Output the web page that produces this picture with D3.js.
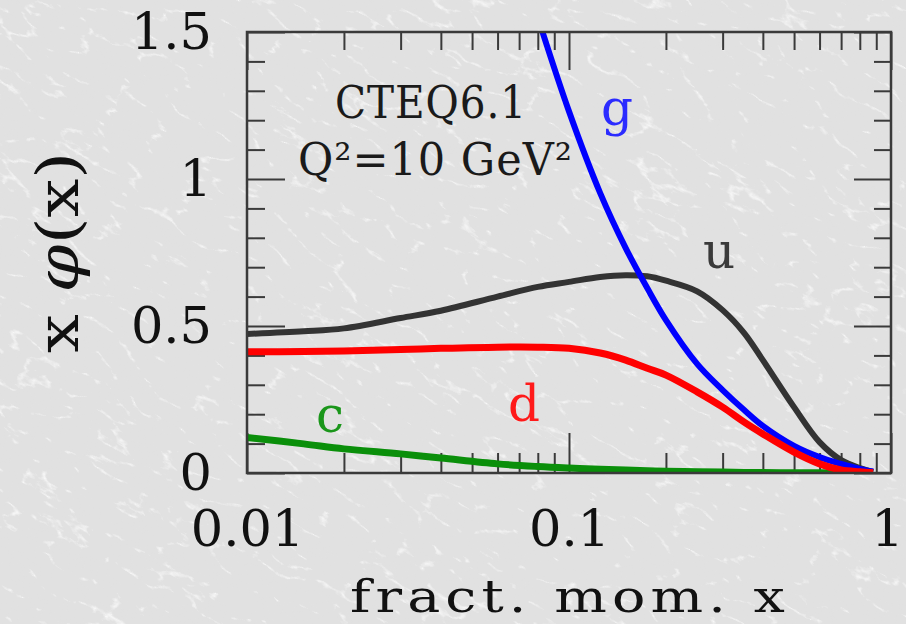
<!DOCTYPE html>
<html>
<head>
<meta charset="utf-8">
<script src="https://cdn.jsdelivr.net/npm/d3@7/dist/d3.min.js"></script>
<style>
  html, body { margin: 0; padding: 0; background: #e2e2e2; }
  svg { display: block; }
  text { font-family: "DejaVu Serif", "Liberation Serif", serif; }
</style>
</head>
<body>
<svg id="chart" width="906" height="624"></svg>
<script>
// Momentum fractions at which the parton densities are sampled
const xValues = [0.01, 0.015, 0.02, 0.03, 0.04, 0.06, 0.08, 0.1, 0.125, 0.15, 0.175, 0.2,
                 0.25, 0.3, 0.35, 0.4, 0.5, 0.6, 0.7, 0.8, 0.88];

// x·f(x) for each parton (CTEQ6.1, Q² = 10 GeV²)
const uValues = [0.473, 0.482, 0.492, 0.527, 0.552, 0.600, 0.633, 0.650, 0.667, 0.673, 0.669, 0.654,
                 0.618, 0.554, 0.476, 0.384, 0.224, 0.105, 0.044, 0.017, 0.004];
const dValues = [0.412, 0.413, 0.415, 0.420, 0.424, 0.428, 0.428, 0.424, 0.408, 0.384, 0.356, 0.333,
                 0.276, 0.224, 0.173, 0.133, 0.071, 0.031, 0.010, 0.004, 0.001];
const gValues = [null, null, null, null, null, null, 1.55, 1.23, 0.952, 0.765, 0.629, 0.520,
                 0.371, 0.282, 0.214, 0.160, 0.092, 0.054, 0.031, 0.014, 0.005];
const cValues = [0.121, 0.099, 0.082, 0.065, 0.051, 0.031, 0.022, 0.017, 0.013, 0.010, 0.008, 0.006,
                 0.004, 0.003, 0.002, 0.0015, 0.001, 0.0005, 0.0003, 0.0001, 0.0];

const xMajorTicks = [0.01, 0.1, 1];
const xTickLabels = ["0.01", "0.1", "1"];
const xMinorTicks = [0.02, 0.03, 0.04, 0.05, 0.06, 0.07, 0.08, 0.09,
                     0.2, 0.3, 0.4, 0.5, 0.6, 0.7, 0.8, 0.9];
const yMajorTicks = [0, 0.5, 1, 1.5];
const yTickLabels = ["0", "0.5", "1", "1.5"];
const yMinorTicks = [0.1, 0.2, 0.3, 0.4, 0.6, 0.7, 0.8, 0.9, 1.1, 1.2, 1.3, 1.4];

const series = [
  { name: "c", values: cValues, color: "#0a8f0a", width: 7 },
  { name: "u", values: uValues, color: "#333333", width: 6 },
  { name: "g", values: gValues, color: "#0000ff", width: 6 },
  { name: "d", values: dValues, color: "#ff0000", width: 7 }
];

const svg = d3.select("#chart");
const W = 906, H = 624;
const plotLeft = 247, plotRight = 891, plotTop = 32, plotBottom = 473;

// Marble-like paper background
const defs = svg.append("defs");
const marble = defs.append("filter").attr("id", "marble")
  .attr("x", 0).attr("y", 0).attr("width", "100%").attr("height", "100%");
marble.append("feTurbulence").attr("type", "turbulence")
  .attr("baseFrequency", "0.018 0.04").attr("numOctaves", 5).attr("seed", 11).attr("result", "t");
marble.append("feColorMatrix").attr("in", "t").attr("type", "matrix")
  .attr("values", "0 0 0 0 1  0 0 0 0 1  0 0 0 0 1  -7 0 0 0 1.15");
const grain = defs.append("filter").attr("id", "grain")
  .attr("x", 0).attr("y", 0).attr("width", "100%").attr("height", "100%");
grain.append("feTurbulence").attr("type", "fractalNoise")
  .attr("baseFrequency", "0.03 0.05").attr("numOctaves", 3).attr("seed", 3).attr("result", "n");
grain.append("feColorMatrix").attr("in", "n").attr("type", "matrix")
  .attr("values", "0 0 0 0 0.75  0 0 0 0 0.75  0 0 0 0 0.75  0 0 0 -1.4 0.85");

svg.append("rect").attr("width", W).attr("height", H).attr("fill", "#e1e1e1");
svg.append("g").attr("transform", "rotate(30 453 312)")
  .append("rect").attr("x", -300).attr("y", -300).attr("width", W + 600).attr("height", H + 600)
  .attr("filter", "url(#grain)").attr("opacity", 0.35);
svg.append("g").attr("transform", "rotate(30 453 312)")
  .append("rect").attr("x", -300).attr("y", -300).attr("width", W + 600).attr("height", H + 600)
  .attr("filter", "url(#marble)").attr("opacity", 0.75);

defs.append("clipPath").attr("id", "plotClip")
  .append("rect").attr("x", plotLeft).attr("y", plotTop)
  .attr("width", plotRight - plotLeft).attr("height", plotBottom - plotTop);

const x = d3.scaleLog().domain([0.01, 1]).range([plotLeft, plotRight]);
const y = d3.scaleLinear().domain([0, 1.5]).range([plotBottom, plotTop]);

const tickColor = "#3a3a3a";
function styleAxis(g) {
  g.select(".domain").remove();
  g.selectAll(".tick line").attr("stroke", tickColor).attr("stroke-width", 2);
  g.selectAll(".tick text").attr("fill", "#111").style("font-size", "51px");
}

// Bottom axis: labelled majors, unlabelled minors, ticks pointing inward
svg.append("g").attr("transform", `translate(0,${plotBottom})`)
  .call(d3.axisBottom(x).tickValues(xMinorTicks).tickSizeInner(-20).tickSizeOuter(0).tickFormat(""))
  .call(styleAxis);
const xMajorAxis = svg.append("g").attr("transform", `translate(0,${plotBottom})`)
  .call(d3.axisBottom(x).tickValues(xMajorTicks).tickSizeInner(-40).tickSizeOuter(0).tickPadding(37)
    .tickFormat((d, i) => xTickLabels[i]))
  .call(styleAxis);
// keep the last label inside the page
xMajorAxis.selectAll(".tick text").filter(d => d === 1).attr("dx", "-4");
// Top axis mirrors the bottom one
svg.append("g").attr("transform", `translate(0,${plotTop})`)
  .call(d3.axisTop(x).tickValues(xMinorTicks).tickSizeInner(-18).tickSizeOuter(0).tickFormat(""))
  .call(styleAxis);
svg.append("g").attr("transform", `translate(0,${plotTop})`)
  .call(d3.axisTop(x).tickValues(xMajorTicks).tickSizeInner(-38).tickSizeOuter(0).tickFormat(""))
  .call(styleAxis);

// Left axis
svg.append("g").attr("transform", `translate(${plotLeft},0)`)
  .call(d3.axisLeft(y).tickValues(yMinorTicks).tickSizeInner(-18).tickSizeOuter(0).tickFormat(""))
  .call(styleAxis);
svg.append("g").attr("transform", `translate(${plotLeft},0)`)
  .call(d3.axisLeft(y).tickValues(yMajorTicks).tickSizeInner(-38).tickSizeOuter(0).tickPadding(35)
    .tickFormat((d, i) => yTickLabels[i]))
  .call(styleAxis);
// Right axis
svg.append("g").attr("transform", `translate(${plotRight},0)`)
  .call(d3.axisRight(y).tickValues(yMinorTicks).tickSizeInner(-17).tickSizeOuter(0).tickFormat(""))
  .call(styleAxis);
svg.append("g").attr("transform", `translate(${plotRight},0)`)
  .call(d3.axisRight(y).tickValues(yMajorTicks).tickSizeInner(-37).tickSizeOuter(0).tickFormat(""))
  .call(styleAxis);

// Curves
const line = d3.line()
  .defined(d => d[1] !== null)
  .x(d => x(d[0]))
  .y(d => y(d[1]))
  .curve(d3.curveCatmullRom.alpha(0.5));

const curves = svg.append("g").attr("clip-path", "url(#plotClip)");
series.forEach(s => {
  curves.append("path")
    .datum(xValues.map((xv, i) => [xv, s.values[i]]))
    .attr("d", line)
    .attr("fill", "none")
    .attr("stroke", s.color)
    .attr("stroke-width", s.width)
    .attr("stroke-linejoin", "round")
    .attr("stroke-linecap", "butt");
});

// Frame
svg.append("rect").attr("x", plotLeft).attr("y", plotTop)
  .attr("width", plotRight - plotLeft).attr("height", plotBottom - plotTop)
  .attr("fill", "none").attr("stroke", "#3a3a3a").attr("stroke-width", 2.5);

// Curve labels
const labels = [
  { text: "g", x: 617, y: 125, color: "#2b2bff" },
  { text: "u", x: 719, y: 268, color: "#3a3a3a" },
  { text: "d", x: 524, y: 421, color: "#ff1a1a" },
  { text: "c", x: 330, y: 432, color: "#1a961a" }
];
svg.append("g").selectAll("text").data(labels).join("text")
  .attr("x", d => d.x).attr("y", d => d.y)
  .attr("text-anchor", "middle")
  .attr("fill", d => d.color)
  .style("font-size", "50px")
  .text(d => d.text);

// Stretch a text horizontally so that it spans a given width (wide book-face look)
function fitWidth(sel, x0, yBase, width) {
  const w = sel.node().getComputedTextLength();
  sel.attr("transform", `translate(${x0},${yBase}) scale(${width / w},1)`);
}

// Annotation
const ann1 = svg.append("text").attr("fill", "#1a1a1a").style("font-size", "45px")
  .style("letter-spacing", "1px").text("CTEQ6.1");
fitWidth(ann1, 335, 118, 192);
const ann2 = svg.append("text").attr("fill", "#1a1a1a").style("font-size", "45px")
  .style("letter-spacing", "1px").text("Q²=10 GeV²");
fitWidth(ann2, 298, 175, 275);

// Axis titles
const xTitle = svg.append("text").attr("fill", "#111").style("font-size", "44px")
  .style("letter-spacing", "4px").text("fract. mom. x");
fitWidth(xTitle, 350, 612, 440);

const yTitle = svg.append("text")
  .attr("transform", "translate(78,353) rotate(-90)")
  .attr("textLength", 201).attr("lengthAdjust", "spacingAndGlyphs")
  .attr("fill", "#111").style("font-size", "58px");
yTitle.append("tspan").text("x ");
yTitle.append("tspan").style("font-style", "italic").text("φ");
yTitle.append("tspan").text("(x)");
</script>
</body>
</html>
